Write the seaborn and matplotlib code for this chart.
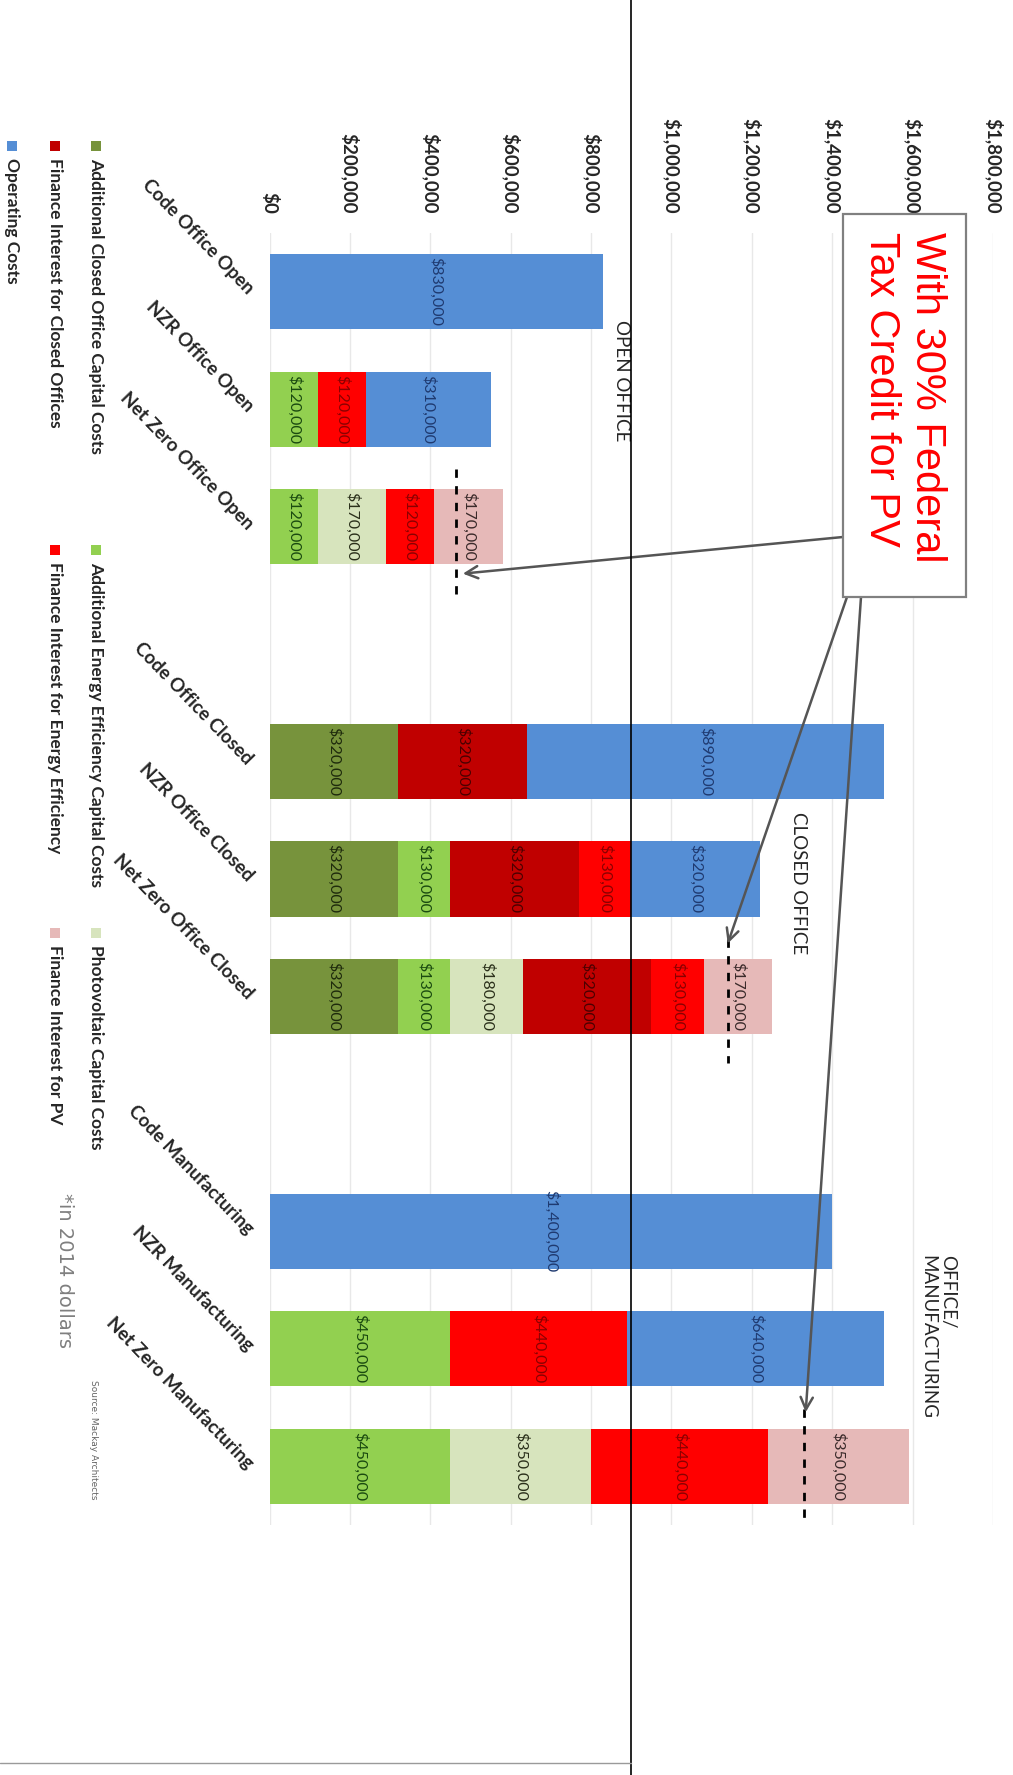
import numpy as np
import pandas as pd
import seaborn as sns
import matplotlib.pyplot as plt
from matplotlib.patches import Rectangle
from matplotlib.lines import Line2D


# Dados do gráfico (custos em dólares de 2014)
categorias = ['Code Office Open', 'NZR Office Open', 'Net Zero Office Open',
              'Code Office Closed', 'NZR Office Closed', 'Net Zero Office Closed',
              'Code Manufacturing', 'NZR Manufacturing', 'Net Zero Manufacturing']

series = ['Additional Closed Office Capital Costs',
          'Additional Energy Efficiency Capital Costs',
          'Photovoltaic Capital Costs',
          'Finance Interest for Closed Offices',
          'Finance Interest for Energy Efficiency',
          'Finance Interest for PV',
          'Operating Costs']

capital_fechado = [0, 0, 0, 320000, 320000, 320000, 0, 0, 0]
capital_eficiencia = [0, 120000, 120000, 0, 130000, 130000, 0, 450000, 450000]
capital_pv = [0, 0, 170000, 0, 0, 180000, 0, 0, 350000]
juros_fechado = [0, 0, 0, 320000, 320000, 320000, 0, 0, 0]
juros_eficiencia = [0, 120000, 120000, 0, 130000, 130000, 0, 440000, 440000]
juros_pv = [0, 0, 170000, 0, 0, 170000, 0, 0, 350000]
custo_operacao = [830000, 310000, 0, 890000, 320000, 0, 1400000, 640000, 0]

# Total com o crédito fiscal federal de 30% para PV (linhas tracejadas)
categorias_credito = ['Net Zero Office Open', 'Net Zero Office Closed', 'Net Zero Manufacturing']
total_com_credito = [465000, 1140000, 1330000]

ticks_valor = [0, 200000, 400000, 600000, 800000, 1000000, 1200000, 1400000, 1600000, 1800000]
rotulos_ticks = ['$0', '$200,000', '$400,000', '$600,000', '$800,000', '$1,000,000',
                 '$1,200,000', '$1,400,000', '$1,600,000', '$1,800,000']

cores = ['#77933c', '#92d050', '#d7e4bd', '#c00000', '#ff0000', '#e6b9b8', '#558ed5']
cores_texto = ['#1e2a0c', '#1a4a10', '#2a2f1a', '#4a0000', '#8a0000', '#3a2a2a', '#1f3a70']


# DataFrame para plotagem
df = pd.DataFrame({'Categoria': categorias})
for nome, valores in zip(series, [capital_fechado, capital_eficiencia, capital_pv, juros_fechado,
                                  juros_eficiencia, juros_pv, custo_operacao]):
    df[nome] = valores
acumulado = df[series].cumsum(axis=1)

# ordem com espaços vazios entre os grupos
ordem = categorias[:3] + [' '] + categorias[3:6] + ['  '] + categorias[6:]
posicao = {c: i for i, c in enumerate(ordem)}


# Figura
sns.set_style('white')
plt.rcParams['font.family'] = ['Lato', 'DejaVu Sans']

W, H = 1013, 1775
fig = plt.figure(figsize=(W / 100, H / 100), dpi=100)

def fx(px):
    return px / W

def fy(py):
    return 1 - py / H

ax = fig.add_axes([fx(269.5), fy(1525), fx(993) - fx(269.5), fy(233) - fy(1525)])

# barras empilhadas: desenha o acumulado do maior para o menor
for nome, cor in reversed(list(zip(series, cores))):
    sns.barplot(x=acumulado[nome], y=df['Categoria'], order=ordem, orient='h', color=cor,
                saturation=1, width=0.64, linewidth=0, errorbar=None, ax=ax)

# rótulos de valor dentro de cada segmento
for i, cat in enumerate(categorias):
    esquerda = 0
    for j, nome in enumerate(series):
        v = df.loc[i, nome]
        if v > 0:
            ax.text(esquerda + v / 2, posicao[cat], f'${v:,.0f}', rotation=-90,
                    ha='center', va='center', fontsize=11.5, color=cores_texto[j], zorder=4)
        esquerda += v

# linhas tracejadas com crédito fiscal
for cat, v in zip(categorias_credito, total_com_credito):
    p = posicao[cat]
    ax.vlines(v, p - 0.49, p + 0.57, colors='black', linestyles=(0, (3, 3)), lw=2, zorder=5)

ax.set_xlim(0, 1800000)
ax.set_ylim(10.5, -0.5)
ax.xaxis.tick_top()
ax.set_xticks(ticks_valor, rotulos_ticks, rotation=-90, fontsize=13.5, fontweight='bold')
ax.tick_params(axis='x', length=0, pad=14)
ax.set_yticks(range(len(ordem)), [c.strip() for c in ordem], rotation=-46, ha='right',
              va='center', rotation_mode='anchor', fontsize=13.5, fontweight='bold')
ax.tick_params(axis='y', length=0, pad=14)
ax.set_xlabel('')
ax.set_ylabel('')
ax.set_axisbelow(True)
ax.grid(axis='x', color='#e8e8e8', lw=1)
ax.grid(axis='y', visible=False)
for s in ax.spines.values():
    s.set_visible(False)

# rótulos dos grupos
fig.text(fx(621), fy(320), 'OPEN OFFICE', rotation=-90, ha='center', va='top', fontsize=13.5)
fig.text(fx(798), fy(812), 'CLOSED OFFICE', rotation=-90, ha='center', va='top', fontsize=13.5)
fig.text(fx(938), fy(1255), 'OFFICE/\nMANUFACTURING', rotation=-90, ha='center', va='top',
         multialignment='left', fontsize=13.5)

# caixa do crédito fiscal e setas
fig.add_artist(Rectangle((fx(843), fy(597)), fx(966) - fx(843), fy(214) - fy(597),
                         transform=fig.transFigure, facecolor='white', edgecolor='#808080',
                         lw=1.6, zorder=6))
fig.text(fx(904), fy(232), 'With 30% Federal\nTax Credit for PV', rotation=-90, ha='center',
         va='top', multialignment='left', color='red', fontsize=30,
         family=['Liberation Sans', 'DejaVu Sans'], zorder=7)

origens = [(843, 537), (847, 597), (861, 597)]
ajustes = [(16000, 0.40), (0, -0.45), (4000, -0.46)]
for cat, v, (ox, oy), (dx, dy) in zip(categorias_credito, total_com_credito, origens, ajustes):
    ax.annotate('', xy=(v + dx, posicao[cat] + dy), xycoords='data',
                xytext=(fx(ox), fy(oy)), textcoords='figure fraction', annotation_clip=False,
                arrowprops=dict(arrowstyle='->', color='#555555', lw=1.8,
                                mutation_scale=22, shrinkA=0, shrinkB=0), zorder=5)

# legenda (girada junto com o gráfico)
leg_x = [96, 96, 96, 55, 55, 55, 12]
leg_y = [146, 550, 933, 146, 550, 933, 146]
for nome, cor, lx, ly in zip(series, cores, leg_x, leg_y):
    fig.add_artist(Rectangle((fx(lx - 5), fy(ly + 5)), fx(10), 10 / H,
                             transform=fig.transFigure, facecolor=cor, edgecolor='none'))
    fig.text(fx(lx), fy(ly + 12), nome, rotation=-90, ha='center', va='top',
             fontsize=12.5, fontweight='bold')

fig.text(fx(64), fy(1193), '*in 2014 dollars', rotation=-90, ha='center', va='top',
         fontsize=14, color='#7f7f7f', family=['DejaVu Sans'])
fig.text(fx(93), fy(1380), 'Source: Mackay Architects', rotation=-90, ha='center', va='top',
         fontsize=6.5, color='#666666', family=['DejaVu Sans'])

# linha vertical da dobra da página e linha inferior
fig.add_artist(Line2D([fx(631), fx(631)], [0, 1], color='black', lw=1.2, zorder=10))
fig.add_artist(Line2D([0, fx(631)], [fy(1763), fy(1763)], color='#9a9a9a', lw=1, zorder=10))

plt.savefig('out.png', dpi=100)
